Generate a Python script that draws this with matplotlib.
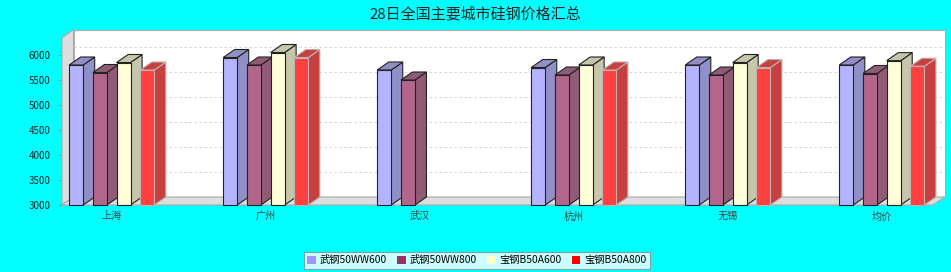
import numpy as np
import matplotlib
matplotlib.use("Agg")
import matplotlib.pyplot as plt
from matplotlib.patches import Polygon, Rectangle, Patch

plt.rcParams['font.family'] = ['Noto Sans CJK SC', 'DejaVu Sans']

# ── Data ───────────────────────────────────────────────────────────────────────

title      = "28日全国主要城市硅钢价格汇总"
cities     = ["上海", "广州", "武汉", "杭州", "无锡", "均价"]
series     = ["武钢50WW600", "武钢50WW800", "宝钢B50A600", "宝钢B50A800"]
wg_600     = [5800, 5950, 5700, 5750, 5800, 5800]
wg_800     = [5650, 5800, 5500, 5600, 5600, 5630]
bg_600     = [5850, 6050, np.nan, 5800, 5850, 5887.5]
bg_800     = [5700, 5950, np.nan, 5700, 5750, 5775]
base_colors = ["#9999FF", "#993366", "#FFFFCC", "#FF0000"]
edge_colors = ["#222222", "#222222", "#222222", "#C0B0B0"]

# ── Helpers ────────────────────────────────────────────────────────────────────

def blend(c, factor=1.0, alpha=0.75):
    rgb = np.array(matplotlib.colors.to_rgb(c)) * factor
    return tuple(alpha * rgb + (1 - alpha))

# ── Figure ─────────────────────────────────────────────────────────────────────

W, H = 951, 272
fig = plt.figure(figsize=(W / 100, H / 100), dpi=100, facecolor="#00FFFF")
ax = fig.add_axes([62 / W, (H - 205) / H, 871 / W, 167.3 / H])
ax.set_facecolor("none")

Y0, Y1 = 3000, 6346
XL, XR = -0.323, 5.332
ax.set_xlim(XL, XR)
ax.set_ylim(Y0, Y1)

px_x = 154.0          # pixels per category
px_y = 0.05           # pixels per value unit
dx = 11.5 / px_x      # depth offset in data units
dy = 8.0 / px_y

# back wall
ax.add_patch(Polygon([(XL + dx, Y0 + dy), (XR + dx, Y0 + dy), (XR + dx, Y1 + dy),
                      (XL + dx, Y1 + dy)], closed=True, facecolor="white",
                     edgecolor="#AAAAAA", lw=0.8, clip_on=False, zorder=0))
# gridlines on back wall
for v in range(3500, 6001, 500):
    ax.plot([XL + dx, XR + dx], [v + dy, v + dy], color="#CCCCCC", lw=0.6,
            ls=(0, (3, 3)), clip_on=False, zorder=1)
# left wall
ax.add_patch(Polygon([(XL, Y0), (XL + dx, Y0 + dy), (XL + dx, Y1 + dy), (XL, Y1)],
                     closed=True, facecolor="#DDDDDD", edgecolor="#AAAAAA", lw=0.8,
                     clip_on=False, zorder=2))
# floor
ax.add_patch(Polygon([(XL, Y0), (XR, Y0), (XR + dx, Y0 + dy), (XL + dx, Y0 + dy)],
                     closed=True, facecolor="#DDDDDD", edgecolor="#AAAAAA", lw=0.8,
                     clip_on=False, zorder=2))

# bars
all_vals = [wg_600, wg_800, bg_600, bg_800]
w = 14 / px_x
step = 23.7 / px_x
z = 3
for i in range(len(cities)):
    for s, vals in enumerate(all_vals):
        v = vals[i]
        if np.isnan(v):
            continue
        x0 = i + (s - 1.5) * step - w / 2
        x1 = x0 + w
        front = blend(base_colors[s])
        dark = blend(base_colors[s], 0.7)
        ec = edge_colors[s]
        ax.add_patch(Polygon([(x1, Y0), (x1 + dx, Y0 + dy), (x1 + dx, v + dy), (x1, v)],
                             closed=True, facecolor=dark, edgecolor=ec, lw=0.8,
                             clip_on=False, zorder=z))
        ax.add_patch(Polygon([(x0, v), (x0 + dx, v + dy), (x1 + dx, v + dy), (x1, v)],
                             closed=True, facecolor=dark, edgecolor=ec, lw=0.8,
                             clip_on=False, zorder=z))
        ax.add_patch(Rectangle((x0, Y0), w, v - Y0, facecolor=front, edgecolor=ec,
                               lw=0.8, clip_on=False, zorder=z + 1))
        z += 2

# axes styling
for sp in ax.spines.values():
    sp.set_visible(False)
ax.set_yticks(range(3000, 6001, 500))
ax.tick_params(axis="y", labelsize=7, length=2, color="#888888", pad=6,
               labelcolor="#222222")
ax.set_xticks(range(len(cities)))
ax.set_xticklabels(cities)
ax.tick_params(axis="x", labelsize=7.3, length=0, pad=4.5, labelcolor="#444444")

fig.text(0.5, 1 - 14 / H, title, ha="center", va="center", fontsize=10.8,
         color="#222222")

handles = [Patch(facecolor=c, edgecolor="none") for c in base_colors]
leg = fig.legend(handles, series, loc="center", bbox_to_anchor=(477 / W, 1 - 260.5 / H),
                 ncol=4, fontsize=7.4, frameon=True, fancybox=False,
                 handlelength=0.8, handleheight=0.8, handletextpad=0.4,
                 columnspacing=1.0, borderpad=0.3, borderaxespad=0)
leg.get_frame().set_edgecolor("#888888")
leg.get_frame().set_linewidth(0.8)

fig.savefig("out.png", dpi=100, facecolor=fig.get_facecolor())
